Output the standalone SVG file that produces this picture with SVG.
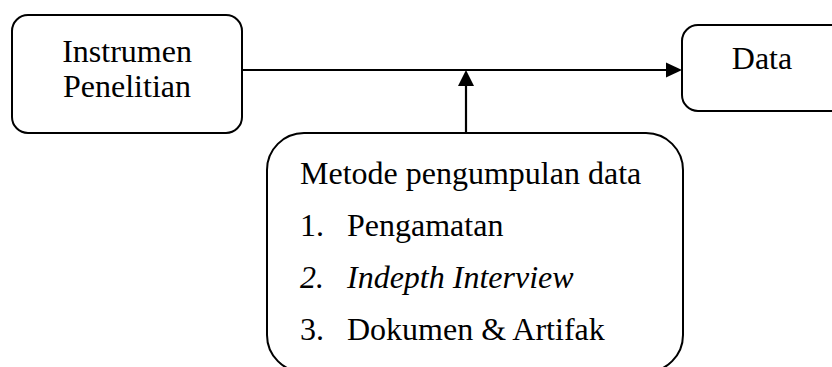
<svg xmlns="http://www.w3.org/2000/svg" width="832" height="367" viewBox="0 0 832 367">
  <style>
    .box { fill: #ffffff; stroke: #000000; stroke-width: 2; }
    .txt { font-family: "Liberation Serif", "Times New Roman", serif; font-size: 32px; fill: #000000; }
    .link { stroke: #000000; stroke-width: 2.2; fill: none; }
    .head { fill: #000000; stroke: none; }
  </style>
  <rect width="832" height="367" fill="#ffffff"/>

  <g id="instrumen">
    <rect class="box" x="12" y="15" width="230" height="118" rx="16" ry="16"/>
    <text class="txt" x="127" y="62" text-anchor="middle">Instrumen</text>
    <text class="txt" x="127" y="97" text-anchor="middle">Penelitian</text>
  </g>

  <g id="data">
    <rect class="box" x="682" y="25" width="170" height="86" rx="16" ry="16"/>
    <text class="txt" x="762" y="69" text-anchor="middle">Data</text>
  </g>

  <g id="metode">
    <rect class="box" x="267" y="133" width="416" height="239" rx="37" ry="37"/>
    <text class="txt" x="300" y="184">Metode pengumpulan data</text>
    <text class="txt" x="300" y="236">1.</text>
    <text class="txt" x="347" y="236">Pengamatan</text>
    <text class="txt" x="300" y="288" font-style="italic">2.</text>
    <text class="txt" x="347" y="288" font-style="italic">Indepth Interview</text>
    <text class="txt" x="300" y="340">3.</text>
    <text class="txt" x="347" y="340">Dokumen &amp; Artifak</text>
  </g>

  <g id="connectors">
    <line class="link" x1="242" y1="70" x2="667" y2="70"/>
    <polygon class="head" points="682,70 666,62.5 666,77.5"/>
    <line class="link" x1="466" y1="133" x2="466" y2="85"/>
    <polygon class="head" points="466,70 458,86 474,86"/>
  </g>
</svg>
